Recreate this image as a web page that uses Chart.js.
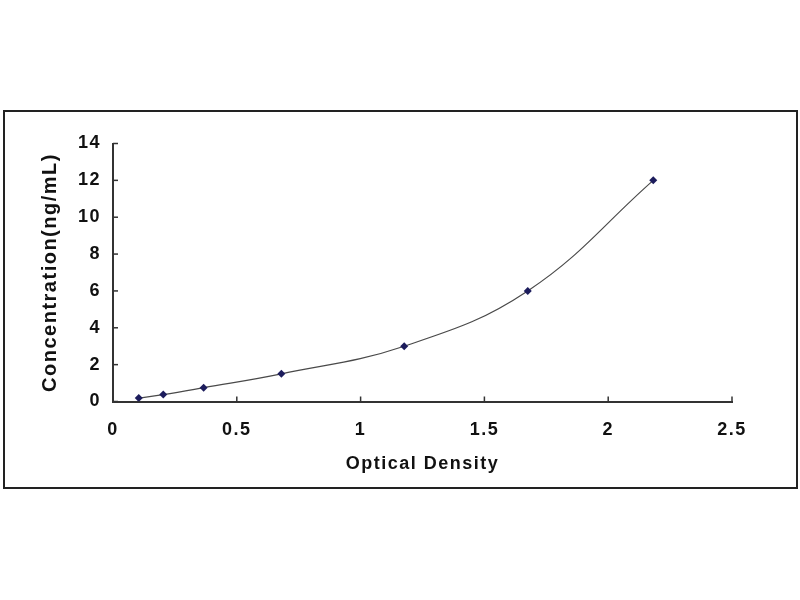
<!DOCTYPE html>
<html>
<head>
<meta charset="utf-8">
<script src="https://cdn.jsdelivr.net/npm/chart.js@4.4.1/dist/chart.umd.min.js"></script>
<style>
  html, body { margin: 0; padding: 0; background: #fff; }
  #wrap { position: relative; width: 800px; height: 600px; }
  #frame { position: absolute; left: 3px; top: 110px; width: 791px; height: 375px; border: 2px solid #222; }
  canvas { position: absolute; left: 0; top: 0; }
</style>
</head>
<body>
<div id="wrap">
  <div id="frame"></div>
  <canvas id="c" width="800" height="600"></canvas>
</div>
<script>
const opticalDensity = [0.104, 0.203, 0.366, 0.68, 1.176, 1.675, 2.182];
const concentration = [0.188, 0.375, 0.75, 1.5, 3, 6, 12];
const xTicks = [0, 0.5, 1, 1.5, 2, 2.5];
const yTicks = [0, 2, 4, 6, 8, 10, 12, 14];
const xTitle = 'Optical Density';
const yTitle = 'Concentration(ng/mL)';

const points = opticalDensity.map((x, i) => ({ x: x, y: concentration[i] }));

const spacing = {
  id: 'spacing',
  beforeDraw(chart) { chart.ctx.letterSpacing = '1.5px'; },
  afterDraw(chart) { chart.ctx.letterSpacing = '0px'; }
};

const inwardTicks = {
  id: 'inwardTicks',
  afterDraw(chart) {
    const ctx = chart.ctx;
    const xs = chart.scales.x, ys = chart.scales.y;
    const a = chart.chartArea;
    ctx.save();
    ctx.strokeStyle = '#333';
    ctx.lineWidth = 1.5;
    xTicks.forEach(v => {
      const p = xs.getPixelForValue(v);
      ctx.beginPath(); ctx.moveTo(p, a.bottom); ctx.lineTo(p, a.bottom - 5); ctx.stroke();
    });
    yTicks.forEach(v => {
      const p = ys.getPixelForValue(v);
      ctx.beginPath(); ctx.moveTo(a.left, p); ctx.lineTo(a.left + 5, p); ctx.stroke();
    });
    ctx.restore();
  }
};

new Chart(document.getElementById('c'), {
  type: 'scatter',
  data: {
    datasets: [{
      data: points,
      showLine: true,
      borderColor: '#4a4a4a',
      borderWidth: 1.2,
      tension: 0.4,
      pointStyle: 'rectRot',
      pointRadius: 4,
      pointBackgroundColor: '#1c1c5c',
      pointBorderColor: '#1c1c5c',
      pointBorderWidth: 0
    }]
  },
  options: {
    responsive: false,
    animation: false,
    layout: { padding: { left: 0, top: 143.5, right: 68, bottom: 113.5 } },
    plugins: { legend: { display: false }, tooltip: { enabled: false } },
    scales: {
      x: {
        type: 'linear',
        min: 0, max: 2.5,
        afterBuildTicks: s => { s.ticks = xTicks.map(v => ({ value: v })); },
        afterFit: s => { s.height = 85; },
        grid: { display: false, drawTicks: false },
        border: { display: true, color: '#333', width: 2 },
        ticks: {
          padding: 18,
          color: '#111',
          font: { family: 'Liberation Sans', size: 18, weight: 'bold' },
          callback: v => String(v)
        },
        title: {
          display: true, text: xTitle, color: '#111',
          padding: { top: 0, bottom: 12 },
          font: { family: 'Liberation Sans', size: 18, weight: 'bold' }
        }
      },
      y: {
        type: 'linear',
        min: 0, max: 14,
        afterBuildTicks: s => { s.ticks = yTicks.map(v => ({ value: v })); },
        afterFit: s => { s.width = 113; },
        grid: { display: false, drawTicks: false },
        border: { display: true, color: '#333', width: 2 },
        ticks: {
          padding: 12,
          color: '#111',
          font: { family: 'Liberation Sans', size: 18, weight: 'bold' },
          callback: v => String(v)
        },
        title: {
          display: true, text: yTitle, color: '#111',
          padding: { top: 38, bottom: 0 },
          font: { family: 'Liberation Sans', size: 20, weight: 'bold' }
        }
      }
    }
  },
  plugins: [spacing, inwardTicks]
});
</script>
</body>
</html>
